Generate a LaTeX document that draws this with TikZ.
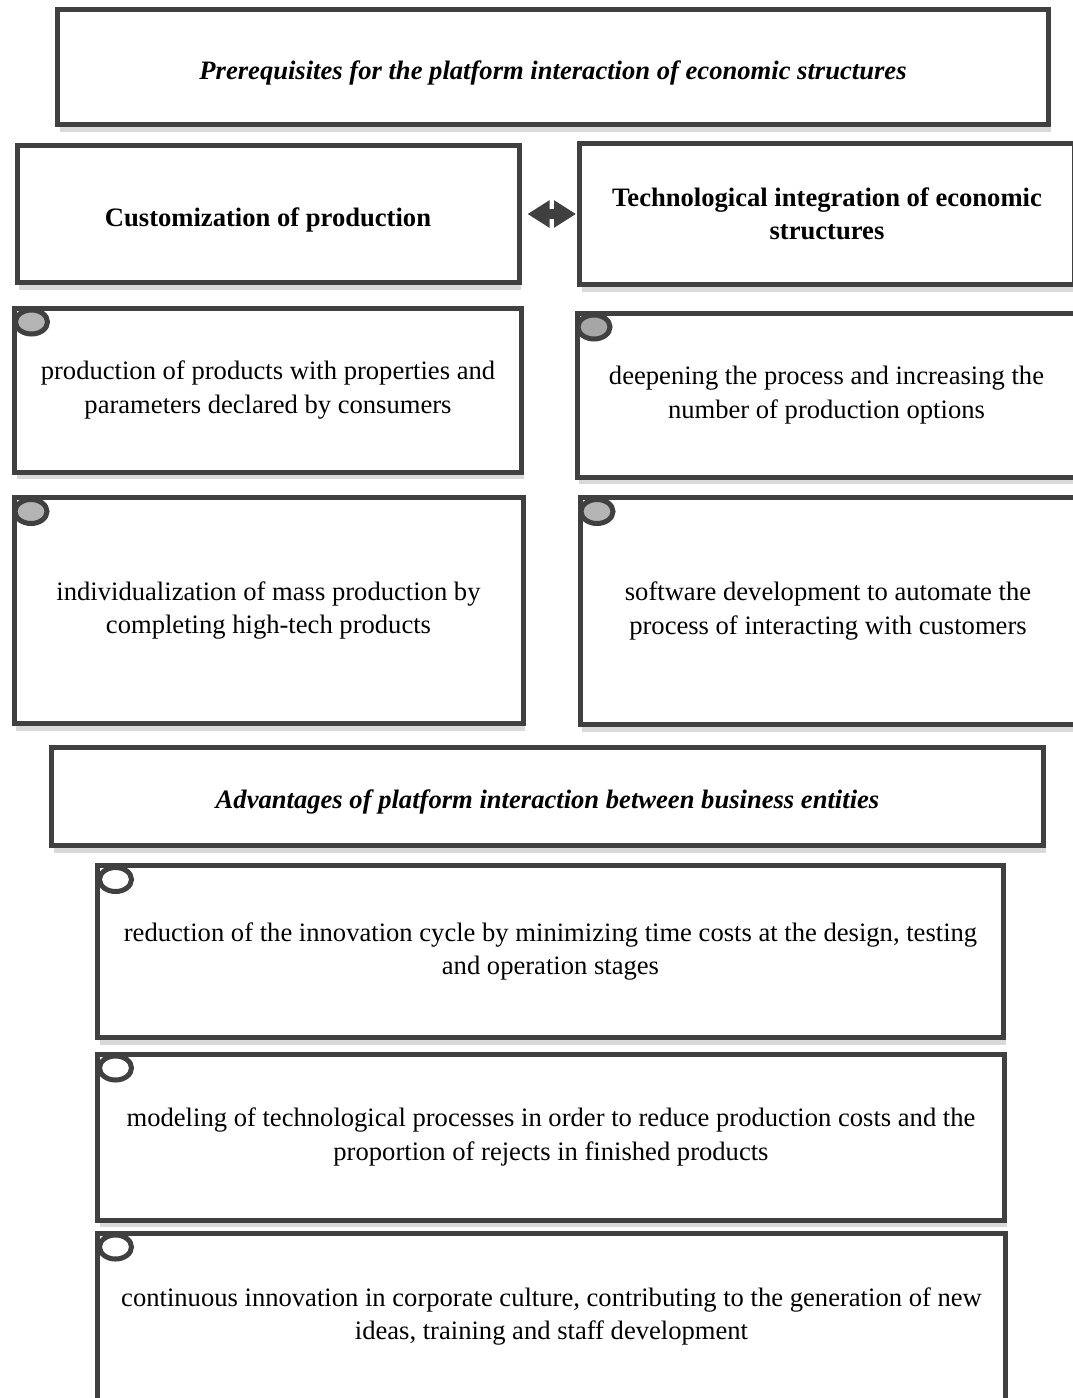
\documentclass[tikz,border=0pt]{standalone}
\usepackage{fontspec}
\setmainfont{Liberation Serif}
\usetikzlibrary{shapes.geometric,shadows,arrows.meta,calc}
\definecolor{edge}{HTML}{404040}
\definecolor{knobgray}{HTML}{B4B4B4}
\begin{document}
\begin{tikzpicture}[x=1pt,y=-1pt,
  box/.style={draw=edge, line width=5pt, fill=white, outer sep=0pt, inner sep=0pt,
    drop shadow={shadow xshift=2pt, shadow yshift=-7pt, opacity=0.3},
    align=center, font=\fontsize{26.6}{33.5}\selectfont,
    execute at begin node={\rule{0pt}{30.5pt}}},
  head/.style={font=\fontsize{26.6}{33.5}\selectfont\bfseries},
  headit/.style={font=\fontsize{26.6}{33.5}\selectfont\bfseries\itshape},
  knob/.style={ellipse, draw=edge, line width=5pt, fill=#1, minimum width=32pt, minimum height=24pt, inner sep=0pt, outer sep=0pt},
  knob/.default=white,
  link/.style={draw=edge, line width=10pt, {Triangle[width=26pt,length=22pt]}-{Triangle[width=26pt,length=22pt]}}
]
\useasboundingbox (0,0) rectangle (1073,1398);

\node[box, headit, minimum width=991pt, minimum height=115pt] (b1) at (553,67)
  {Prerequisites for the platform interaction of economic structures};

\node[box, head, minimum width=502pt, minimum height=137pt] (b2l) at (268,214)
  {Customization of production};
\node[box, head, minimum width=495pt, minimum height=141pt] (b2r) at (827,214)
  {Technological integration of economic\\structures};
\draw[link, shorten <=8.5pt, shorten >=3.5pt] (b2l.east) -- (b2r.west);

\node[box, minimum width=507pt, minimum height=164pt] (b3l) at (268,390)
  {production of products with properties and\\parameters declared by consumers};
\node[box, minimum width=499pt, minimum height=164pt] (b3r) at (826.5,395)
  {deepening the process and increasing the\\number of production options};
\node[knob=knobgray] (k3l) at ($(b3l.north west)+(17,14)$) {};
\node[knob=knobgray!92!black] (k3r) at ($(b3r.north west)+(17,14)$) {};

\node[box, minimum width=509pt, minimum height=226pt] (b4l) at (268.5,610.5)
  {individualization of mass production by\\completing high-tech products};
\node[box, minimum width=496pt, minimum height=227pt] (b4r) at (828,611)
  {software development to automate the\\process of interacting with customers};
\node[knob=knobgray] (k4l) at ($(b4l.north west)+(17,14)$) {};
\node[knob=knobgray] (k4r) at ($(b4r.north west)+(17,14)$) {};

\node[box, headit, minimum width=992pt, minimum height=98pt] (b5) at (547.5,796.5)
  {Advantages of platform interaction between business entities};

\node[box, minimum width=906pt, minimum height=172pt] (b6) at (550.5,951.5)
  {reduction of the innovation cycle by minimizing time costs at the design, testing\\and operation stages};
\node[knob] (k6) at ($(b6.north west)+(18,14)$) {};

\node[box, minimum width=907pt, minimum height=166pt] (b7) at (551,1137)
  {modeling of technological processes in order to reduce production costs and the\\proportion of rejects in finished products};
\node[knob] (k7) at ($(b7.north west)+(18,14)$) {};

\node[box, minimum width=908pt, minimum height=167pt] (b8) at (551.5,1316.5)
  {continuous innovation in corporate culture, contributing to the generation of new\\ideas, training and staff development};
\node[knob] (k8) at ($(b8.north west)+(18,14)$) {};
\end{tikzpicture}
\end{document}
